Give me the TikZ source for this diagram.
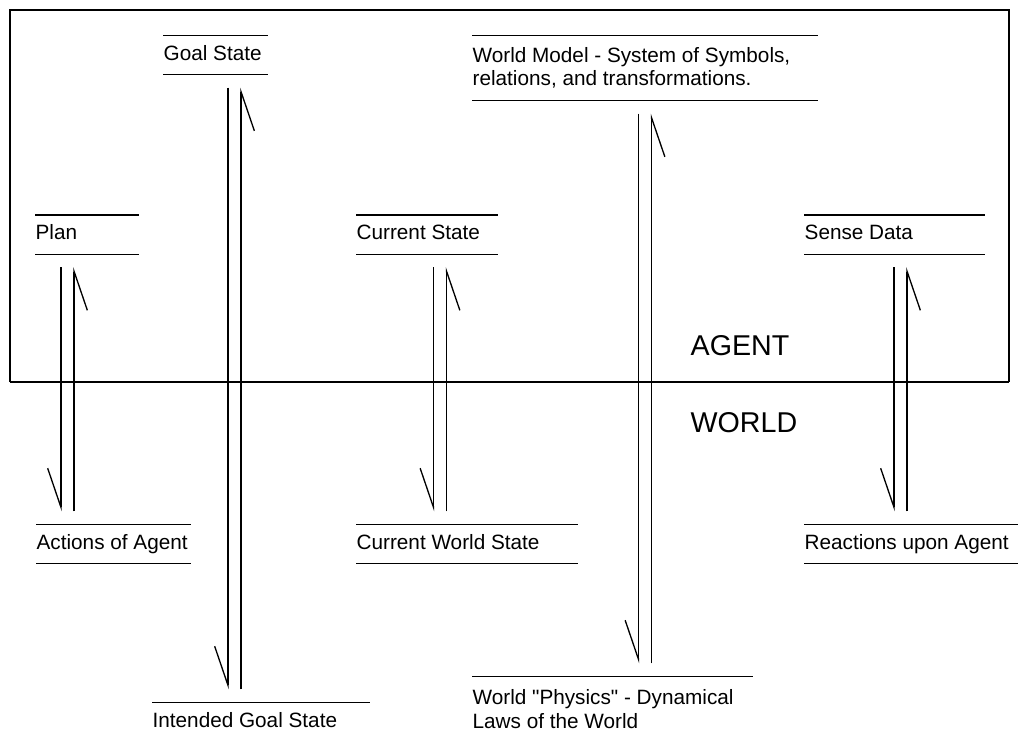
\documentclass[tikz,border=0pt]{standalone}
\usepackage{fontspec}
\setmainfont{Liberation Sans}
\usetikzlibrary{arrows.meta,positioning,calc}
\newcommand{\storefont}{\fontsize{11.8}{13.4}\selectfont}
% two opposite flow lines between a top and a bottom store
\newcommand{\flowpair}[3]{%
  \draw[flow] ($(#1.south -| #3)+(-6.5,13)$) -- ($(#2.north -| #3)+(-6.5,-13)$);
  \draw[flow] ($(#2.north -| #3)+(6.5,-13)$) -- ($(#1.south -| #3)+(6.5,13)$);}

\begin{document}
\begin{tikzpicture}[x=0.02cm, y=-0.02cm, line width=0.75pt,
   store/.style={anchor=west, inner xsep=0pt, inner ysep=0pt,
     minimum height=0.76cm, align=left, font=\storefont,
     text height=0.72em, text depth=0.1em},
   tallstore/.style={store, minimum height=1.28cm, text height=, text depth=},
   flow/.style={-{Straight Barb[right, length=22.3pt, width=15.2pt]}},
   side/.style={anchor=west, inner sep=0pt, font=\fontsize{16.3}{19}\selectfont}]
  \useasboundingbox (0,0) rectangle (1027,738);
  % agent boundary
  \draw (10,382) -- (10,10) -- (1009,10) -- (1009,382);
  \draw[line width=1.1pt] (10,382) -- (1009,382);
  \node[side] (agent) at (690,346) {AGENT};
  \node[side] (world) at (690,423) {WORLD};
  % stores inside the agent
  \node[store] (goal) at (163,55) {Goal State};
  \node[tallstore] (model) at (472,68) {World Model - System of Symbols,\\ relations, and transformations.};
  \node[store] (plan) at (35,234.5) {Plan};
  \node[store] (cur) at (356,234.5) {Current State};
  \node[store] (sense) at (804,234.5) {Sense Data};
  % stores in the world
  \node[store] (act) at (36,544) {Actions of Agent};
  \node[store] (curw) at (356,544) {Current World State};
  \node[store] (react) at (804,544) {Reactions upon Agent};
  \node[store] (intended) at (152,722) {Intended Goal State};
  \node[tallstore] (physics) at (472,709) {World \textquotedbl Physics\textquotedbl\ - Dynamical\\ Laws of the World};
  % store lines
  \draw (goal.north west) -- ++(105,0) (goal.south west) -- ++(105,0);
  \draw (model.north west) -- ++(346,0) (model.south west) -- ++(346,0);
  \draw (plan.north west) -- ++(104,0) (plan.south west) -- ++(104,0);
  \draw (cur.north west) -- ++(142,0) (cur.south west) -- ++(142,0);
  \draw (sense.north west) -- ++(181,0) (sense.south west) -- ++(181,0);
  \draw (act.north west) -- ++(155,0) (act.south west) -- ++(155,0);
  \draw (curw.north west) -- ++(222,0) (curw.south west) -- ++(222,0);
  \draw (react.north west) -- ++(214,0) (react.south west) -- ++(214,0);
  \draw (intended.north west) -- ++(218,0);
  \draw (physics.north west) -- ++(281,0);
  % flow columns
  \coordinate (colplan) at (67.5,0);
  \coordinate (colgoal) at (234.5,0);
  \coordinate (colcur) at (440,0);
  \coordinate (colmodel) at (645,0);
  \coordinate (colsense) at (900.5,0);
  \flowpair{plan}{act}{colplan}
  \flowpair{goal}{intended}{colgoal}
  \flowpair{cur}{curw}{colcur}
  \flowpair{model}{physics}{colmodel}
  \flowpair{sense}{react}{colsense}
\end{tikzpicture}
\end{document}
